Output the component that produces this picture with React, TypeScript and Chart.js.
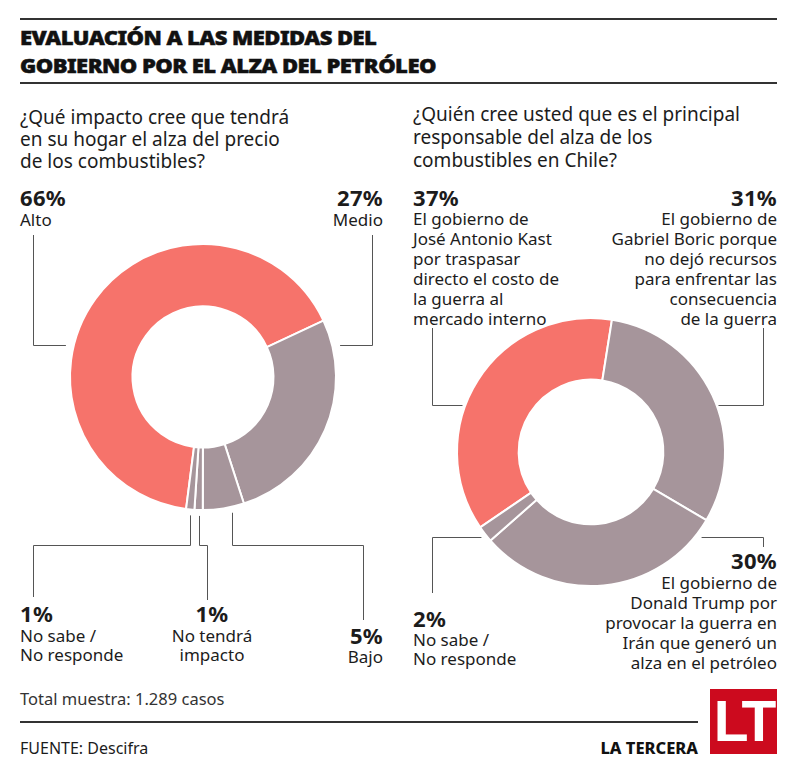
import React, { useEffect, useRef } from "react";
import { Chart, registerables } from "chart.js";

Chart.register(...registerables);

// ---------- data ----------
const impactLabels = ["Alto", "Medio", "Bajo", "No tendrá impacto", "No sabe / No responde"];
const impactValues = [66, 27, 5, 1, 1];

const responsibleLabels = [
  "El gobierno de José Antonio Kast",
  "El gobierno de Gabriel Boric",
  "El gobierno de Donald Trump",
  "No sabe / No responde",
];
const responsibleValues = [37, 31, 30, 2];

// ---------- styles ----------
const RED = "#f6736b";
const GRAY = "#a6959b";
const TEXT = "#1c1c1c";
const LINE = "#555555";
const FONT = "'Noto Sans', sans-serif";
const impactColors = [RED, GRAY, GRAY, GRAY, GRAY];
const responsibleColors = [RED, GRAY, GRAY, GRAY];

type Leader =
  | { index: number; kind: "side"; y: number; dir: 1 | -1; gap: number; to: [number, number] }
  | { index: number; kind: "bottom"; frac: number; gap: number; elbowY: number; to: [number, number] };

const impactLeaders: Leader[] = [
  { index: 0, kind: "side", y: 345, dir: -1, gap: 8, to: [33, 235] },
  { index: 1, kind: "side", y: 345, dir: 1, gap: 8, to: [372, 235] },
  { index: 2, kind: "bottom", frac: 0.29, gap: 6, elbowY: 545, to: [363, 620] },
  { index: 3, kind: "bottom", frac: 0.5, gap: 6, elbowY: 545, to: [207, 600] },
  { index: 4, kind: "bottom", frac: 0.5, gap: 6, elbowY: 545, to: [33, 597] },
];

const responsibleLeaders: Leader[] = [
  { index: 0, kind: "side", y: 405, dir: -1, gap: 3, to: [432, 328] },
  { index: 1, kind: "side", y: 405, dir: 1, gap: 2, to: [763, 328] },
  { index: 2, kind: "side", y: 537, dir: 1, gap: 7, to: [763, 547] },
  { index: 3, kind: "side", y: 537, dir: -1, gap: 6, to: [432, 593] },
];

const leaderPlugin = {
  id: "leaders",
  afterDraw(chart: any, _args: any, opts: any) {
    const leaders: Leader[] = opts.leaders || [];
    const meta = chart.getDatasetMeta(0);
    const ctx = chart.ctx;
    ctx.save();
    ctx.strokeStyle = LINE;
    ctx.lineWidth = 1;
    leaders.forEach((l) => {
      const arc = meta.data[l.index];
      if (!arc) return;
      const p = arc.getProps(["x", "y", "startAngle", "endAngle", "outerRadius"], true);
      const cx = p.x, cy = p.y, R = p.outerRadius;
      ctx.beginPath();
      if (l.kind === "side") {
        const dy = l.y - cy;
        const x0 = cx + l.dir * (Math.sqrt(Math.max(R * R - dy * dy, 0)) + l.gap);
        const yy = Math.round(l.y) + 0.5;
        ctx.moveTo(x0, yy);
        ctx.lineTo(Math.round(l.to[0]) + 0.5, yy);
        ctx.lineTo(Math.round(l.to[0]) + 0.5, l.to[1]);
      } else {
        const ang = p.startAngle + l.frac * (p.endAngle - p.startAngle);
        const x0 = Math.round(cx + R * Math.cos(ang)) + 0.5;
        const y0 = cy + R * Math.sin(ang) + l.gap;
        const ey = Math.round(l.elbowY) + 0.5;
        ctx.moveTo(x0, y0);
        ctx.lineTo(x0, ey);
        ctx.lineTo(Math.round(l.to[0]) + 0.5, ey);
        ctx.lineTo(Math.round(l.to[0]) + 0.5, l.to[1]);
      }
      ctx.stroke();
    });
    ctx.restore();
  },
};

function Donut(props: {
  labels: string[];
  values: number[];
  colors: string[];
  rotation: number;
  padding: { left: number; top: number; right: number; bottom: number };
  cutout: string;
  leaders: Leader[];
}) {
  const ref = useRef<HTMLCanvasElement | null>(null);
  useEffect(() => {
    if (!ref.current) return;
    const chart = new Chart(ref.current, {
      type: "doughnut",
      data: {
        labels: props.labels,
        datasets: [
          {
            data: props.values,
            backgroundColor: props.colors,
            borderColor: "#ffffff",
            borderWidth: 2,
          },
        ],
      },
      options: {
        animation: false,
        responsive: false,
        events: [],
        rotation: props.rotation,
        cutout: props.cutout,
        layout: { padding: props.padding },
        plugins: {
          legend: { display: false },
          tooltip: { enabled: false },
          leaders: { leaders: props.leaders },
        } as any,
      },
      plugins: [leaderPlugin],
    });
    return () => chart.destroy();
  }, []);
  return (
    <canvas
      ref={ref}
      width={800}
      height={784}
      style={{ position: "absolute", left: 0, top: 0, width: 800, height: 784, pointerEvents: "none" }}
    />
  );
}

const abs = (s: React.CSSProperties): React.CSSProperties => ({ position: "absolute", margin: 0, ...s });

function Pct(p: { children: any; style: React.CSSProperties }) {
  return (
    <div style={abs({ fontSize: 22, lineHeight: "24px", fontWeight: 700, letterSpacing: 0.3, ...p.style })}>
      {p.children}
    </div>
  );
}
function Body(p: { children: any; style: React.CSSProperties }) {
  return <div style={abs({ fontSize: 17, lineHeight: "20px", ...p.style })}>{p.children}</div>;
}

export default function App() {
  return (
    <div
      style={{
        position: "absolute",
        left: 0,
        top: 0,
        width: 800,
        height: 784,
        background: "#ffffff",
        fontFamily: FONT,
        color: TEXT,
        overflow: "hidden",
      }}
    >
      {/* rules */}
      <div style={abs({ left: 20, top: 18, width: 757, height: 2, background: "#333" })} />
      <div style={abs({ left: 20, top: 82, width: 757, height: 2, background: "#333" })} />
      <div style={abs({ left: 20, top: 721, width: 678, height: 1.5, background: "#333" })} />

      {/* title */}
      <div
        style={abs({
          left: 20,
          top: 24,
          fontSize: 20,
          lineHeight: "28px",
          fontWeight: 900,
          letterSpacing: -0.5,
          color: "#111",
          transform: "scaleX(1.1)",
          transformOrigin: "0 0",
          WebkitTextStroke: "0.5px #111",
          whiteSpace: "nowrap",
        })}
      >
        EVALUACIÓN A LAS MEDIDAS DEL
        <br />
        GOBIERNO POR EL ALZA DEL PETRÓLEO
      </div>

      {/* questions */}
      <div style={abs({ left: 20, top: 106, fontSize: 19, lineHeight: "22px" })}>
        ¿Qué impacto cree que tendrá
        <br />
        en su hogar el alza del precio
        <br />
        de los combustibles?
      </div>
      <div style={abs({ left: 413, top: 103, fontSize: 19, lineHeight: "23px" })}>
        ¿Quién cree usted que es el principal
        <br />
        responsable del alza de los
        <br />
        combustibles en Chile?
      </div>

      {/* left labels */}
      <Pct style={{ left: 20, top: 185 }}>{impactValues[0]}%</Pct>
      <Body style={{ left: 20, top: 210 }}>Alto</Body>
      <Pct style={{ right: 417, top: 185, textAlign: "right" }}>{impactValues[1]}%</Pct>
      <Body style={{ right: 417, top: 210, textAlign: "right" }}>Medio</Body>

      <Pct style={{ left: 20, top: 601 }}>{impactValues[4]}%</Pct>
      <Body style={{ left: 20, top: 626, lineHeight: "19px" }}>
        No sabe /
        <br />
        No responde
      </Body>
      <Pct style={{ left: 162, width: 100, top: 601, textAlign: "center" }}>{impactValues[3]}%</Pct>
      <Body style={{ left: 162, width: 100, top: 626, lineHeight: "19px", textAlign: "center" }}>
        No tendrá
        <br />
        impacto
      </Body>
      <Pct style={{ left: 300, width: 83, top: 623, textAlign: "right" }}>{impactValues[2]}%</Pct>
      <Body style={{ left: 300, width: 83, top: 647, textAlign: "right" }}>Bajo</Body>

      {/* right labels */}
      <Pct style={{ left: 413, top: 185 }}>{responsibleValues[0]}%</Pct>
      <Body style={{ left: 413, top: 209 }}>
        El gobierno de
        <br />
        José Antonio Kast
        <br />
        por traspasar
        <br />
        directo el costo de
        <br />
        la guerra al
        <br />
        mercado interno
      </Body>
      <Pct style={{ right: 23, top: 185, textAlign: "right" }}>{responsibleValues[1]}%</Pct>
      <Body style={{ right: 23, top: 209, textAlign: "right" }}>
        El gobierno de
        <br />
        Gabriel Boric porque
        <br />
        no dejó recursos
        <br />
        para enfrentar las
        <br />
        consecuencia
        <br />
        de la guerra
      </Body>
      <Pct style={{ right: 23, top: 548, textAlign: "right" }}>{responsibleValues[2]}%</Pct>
      <Body style={{ right: 23, top: 573, textAlign: "right" }}>
        El gobierno de
        <br />
        Donald Trump por
        <br />
        provocar la guerra en
        <br />
        Irán que generó un
        <br />
        alza en el petróleo
      </Body>
      <Pct style={{ left: 413, top: 606 }}>{responsibleValues[3]}%</Pct>
      <Body style={{ left: 413, top: 630, lineHeight: "19px" }}>
        No sabe /
        <br />
        No responde
      </Body>

      {/* footer */}
      <div style={abs({ left: 20, top: 688, fontSize: 16.5, lineHeight: "22px", color: "#333" })}>
        Total muestra: 1.289 casos
      </div>
      <div style={abs({ left: 20, top: 737, fontSize: 16, lineHeight: "22px" })}>FUENTE: Descifra</div>
      <div
        style={abs({
          right: 102,
          top: 737,
          fontSize: 16.5,
          lineHeight: "22px",
          fontWeight: 800,
          letterSpacing: 0,
          textAlign: "right",
          color: "#111",
        })}
      >
        LA TERCERA
      </div>
      <div
        style={abs({
          left: 710,
          top: 689,
          width: 67,
          height: 65,
          background: "#cc0a1e",
          color: "#fff",
          fontWeight: 700,
          fontSize: 57,
          lineHeight: "65px",
          textAlign: "center",
          letterSpacing: -3,
          fontFamily: "'Liberation Sans', Arial, sans-serif",
        })}
      >
        LT
      </div>

      {/* charts */}
      <Donut
        labels={impactLabels}
        values={impactValues}
        colors={impactColors}
        rotation={187.3}
        cutout="53%"
        padding={{ left: 69, top: 243, right: 463, bottom: 273 }}
        leaders={impactLeaders}
      />
      <Donut
        labels={responsibleLabels}
        values={responsibleValues}
        colors={responsibleColors}
        rotation={235.8}
        cutout="54%"
        padding={{ left: 456, top: 317, right: 74, bottom: 197 }}
        leaders={responsibleLeaders}
      />
    </div>
  );
}
